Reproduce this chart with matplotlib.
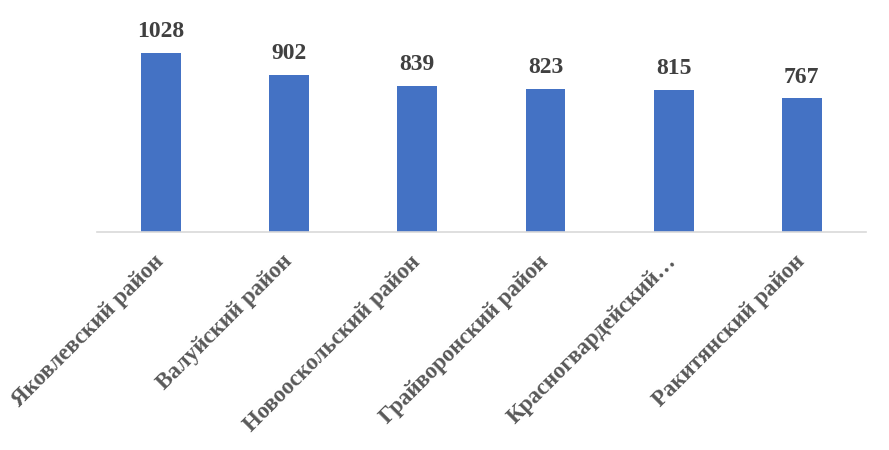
import matplotlib.pyplot as plt

# data
districts = ["Яковлевский район", "Валуйский район", "Новооскольский район",
             "Грайворонский район", "Красногвардейский…", "Ракитянский район"]
values = [1028, 902, 839, 823, 815, 767]

plt.rcParams['font.family'] = ['Liberation Serif', 'DejaVu Serif']

fig = plt.figure(figsize=(8.89, 4.5), dpi=100)
ax = fig.add_axes([0.109, 0.484, 0.865, 0.465])

x = range(len(values))
bars = ax.bar(x, values, width=0.31, color='#4472C4', zorder=2)

# value labels above bars
for xi, v in zip(x, values):
    ax.text(xi, v + 62, str(v), ha='center', va='bottom', fontsize=17,
            fontweight='bold', color='#404040')

ax.set_xlim(-0.5, len(values) - 0.5)
ax.set_ylim(0, 1200)
ax.set_xticks(list(x))
ax.set_xticklabels(districts, rotation=45, ha='right', va='center',
                   rotation_mode='anchor',
                   fontsize=16.5, fontweight='bold', color='#595959')
ax.tick_params(axis='x', length=0, pad=19)
ax.set_yticks([])

for s in ['top', 'right', 'left']:
    ax.spines[s].set_visible(False)
ax.spines['bottom'].set_color('#D9D9D9')
ax.spines['bottom'].set_linewidth(1.2)

fig.savefig('out.png', dpi=100)
